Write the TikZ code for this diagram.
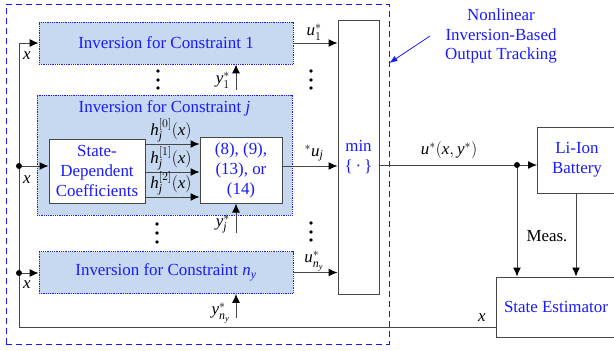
\documentclass[tikz,border=0pt]{standalone}
\usepackage{fontspec}
\setmainfont{Liberation Serif}
\usetikzlibrary{arrows.meta}
\definecolor{tblue}{RGB}{25,25,255}
\definecolor{lfill}{RGB}{198,217,240}
\definecolor{lgray}{RGB}{70,70,70}
\newcommand{\mi}[1]{\mathit{#1}}
\begin{document}
\begin{tikzpicture}[x=1bp,y=-1bp,font=\fontsize{17}{20}\selectfont,
  inv/.style={draw=tblue,densely dotted,fill=lfill,line width=0.8pt,text=tblue,minimum width=254bp,minimum height=42bp,inner sep=0pt},
  wbox/.style={draw=lgray,fill=white,line width=1pt,text=tblue,align=center,inner sep=0pt},
  conn/.style={draw=lgray,line width=1pt},
  arr/.style={conn,-{Latex[length=9bp,width=8bp,color=black]}},
  dot/.style={circle,fill=black,inner sep=0pt,minimum size=6bp},
  sdot/.style={circle,fill=black,inner sep=0pt,minimum size=3.6bp},
  lbl/.style={inner sep=1pt}]
\useasboundingbox (0,0) rectangle (614,350);
\clip (0,0) rectangle (614,350);
% outer dashed frame
\node[draw=tblue,dash pattern=on 6bp off 4bp,line width=0.8pt,minimum width=383bp,minimum height=340bp,inner sep=0pt] (OUT) at (197.5,174) {};
% inversion blocks
\node[inv] (B1) at (166,43) {Inversion for Constraint 1};
\node[inv,minimum width=255bp,minimum height=120bp] (Bj) at (164.5,155) {};
\node[text=tblue] (Bjt) at (164.5,108) {Inversion for Constraint \textit{j}};
\node[inv] (Bn) at (166,272.5) {Inversion for Constraint $\mi{n}_{\mi{y}}$};
\node[wbox,minimum width=96bp,minimum height=64bp] (SDC) at (97,171) {State-\\Dependent\\Coefficients};
\node[wbox,minimum width=82bp,minimum height=66bp] (EQ) at (241,170) {(8), (9),\\(13), or\\(14)};
\node[wbox,minimum width=41bp,minimum height=274bp] (MIN) at (358.5,157) {min\\\{\,·\,\}};
\node[wbox,minimum width=79bp,minimum height=66bp] (BAT) at (577,160) {Li-Ion\\Battery};
\node[wbox,minimum width=120bp,minimum height=60bp] (SE) at (556,307) {State Estimator};
% left state feedback line
\coordinate (Ltop) at (19,43);
\coordinate (Lbot) at (19,327);
\draw[conn] (Ltop) -- (Lbot) -- (SE.west |- Lbot);
\node[dot] (J1) at (19,166) {};
\node[dot] (J2) at (19,273) {};
\draw[arr] (Ltop) -- (B1.west);
\draw[arr] (J1) -- (SDC.west |- J1);
\draw[arr] (J2) -- (Bn.west |- J2);
\node[lbl] (x1) at (27,56) {$\mi{x}$};
\node[lbl] (x2) at (27,180) {$\mi{x}$};
\node[lbl] (x3) at (27,285) {$\mi{x}$};
\node[lbl] (x4) at (482,318) {$\mi{x}$};
% h arrows
\coordinate (h0c) at (0,144);
\coordinate (h1c) at (0,172);
\coordinate (h2c) at (0,197);
\draw[arr] (SDC.east |- h0c) -- (EQ.west |- h0c);
\draw[arr] (SDC.east |- h1c) -- (EQ.west |- h1c);
\draw[arr] (SDC.east |- h2c) -- (EQ.west |- h2c);
\node[lbl] (h0) at (171,130) {$\mi{h}_{\mi{j}}^{[0]}(\mi{x})$};
\node[lbl] (h1) at (171,158) {$\mi{h}_{\mi{j}}^{[1]}(\mi{x})$};
\node[lbl] (h2) at (171,183) {$\mi{h}_{\mi{j}}^{[2]}(\mi{x})$};
% outputs to min
\draw[arr] (B1.east) -- (MIN.west |- B1.east);
\draw[arr] (EQ.east |- J1) -- (MIN.west |- J1);
\draw[arr] (Bn.east) -- (MIN.west |- Bn.east);
\node[lbl] (u1) at (314,32) {$\mi{u}^{*}_{1}$};
\node[lbl] (uj) at (314,153) {${}^{*}\mi{u}_{\mi{j}}$};
\node[lbl] (un) at (314,261) {$\mi{u}^{*}_{\mi{n}_{\mi{y}}}$};
% y* references
\coordinate (y1) at (236,90);
\coordinate (yj) at (236,233);
\coordinate (yn) at (236,318);
\draw[arr] (y1) -- (y1 |- B1.south);
\draw[arr] (yj) -- (yj |- EQ.south);
\draw[arr] (yn) -- (yn |- Bn.south);
\node[lbl,anchor=east] (y1l) at (231,80) {$\mi{y}^{*}_{1}$};
\node[lbl,anchor=east] (yjl) at (231,224) {$\mi{y}^{*}_{\mi{j}}$};
\node[lbl,anchor=east] (ynl) at (231,313) {$\mi{y}^{*}_{\mi{n}_{\mi{y}}}$};
% control output
\node[dot] (J3) at (517,165) {};
\draw[conn] (MIN.east |- J3) -- (J3);
\draw[arr] (J3) -- (BAT.west |- J3);
\draw[arr] (J3) -- (J3 |- SE.north);
\draw[arr] (BAT.south -| 576,0) -- (SE.north -| 576,0);
\node[lbl] (ulab) at (449,150) {$\mi{u}^{*}(\mi{x},\mi{y}^{*})$};
\node[lbl] (meas) at (547,236) {Meas.};
% vertical ellipses
\foreach \yy in {71,80,88} {\node[sdot] at (158,\yy) {}; \node[sdot] at (311,\yy) {};}
\foreach \yy in {224,233,242} {\node[sdot] at (157,\yy) {};}
\foreach \yy in {223,232,240} {\node[sdot] at (311,\yy) {};}
% annotation
\node[text=tblue,align=center] (NL) at (501,36) {Nonlinear\\Inversion-Based\\Output Tracking};
\coordinate (NLa) at (430,36);
\draw[tblue,line width=0.8pt,-{Latex[length=8bp,width=6bp]}] (NLa) -- (OUT.east |- 0,63);
\end{tikzpicture}
\end{document}
